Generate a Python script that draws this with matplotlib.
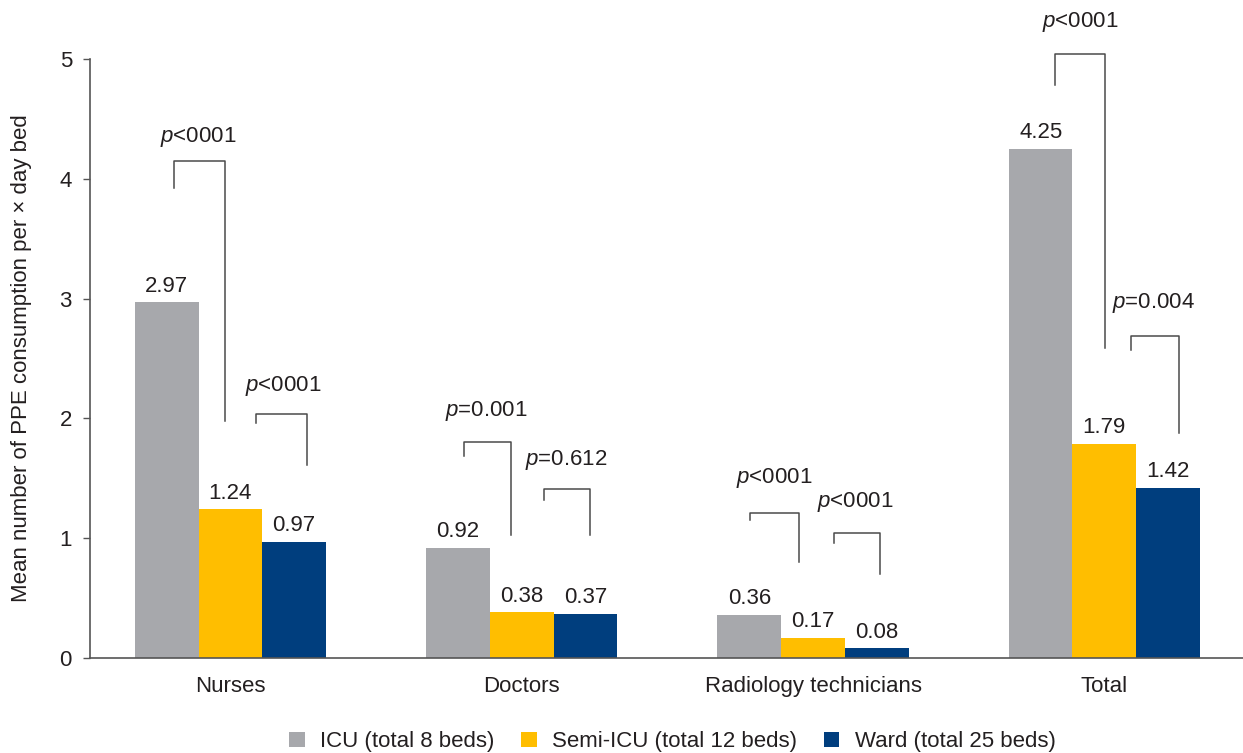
import numpy as np
import matplotlib
matplotlib.use("Agg")
import matplotlib.pyplot as plt

plt.rcParams['font.family'] = ['Liberation Sans', 'DejaVu Sans']
plt.rcParams['mathtext.fontset'] = 'custom'
plt.rcParams['mathtext.it'] = 'Liberation Sans:italic'
plt.rcParams['mathtext.rm'] = 'Liberation Sans'

# data
categories = ["Nurses", "Doctors", "Radiology technicians", "Total"]
series_names = ["ICU (total 8 beds)", "Semi-ICU (total 12 beds)", "Ward (total 25 beds)"]
icu = [2.97, 0.92, 0.36, 4.25]
semi_icu = [1.24, 0.38, 0.17, 1.79]
ward = [0.97, 0.37, 0.08, 1.42]

# significance brackets: (x left, x right, y left end, y top, y right end, label)
brackets = [
    (-0.194, -0.020, 3.92, 4.15, 1.98, "$\\it{p}$<0001"),
    (0.087, 0.264, 1.96, 2.04, 1.61, "$\\it{p}$<0001"),
    (0.802, 0.964, 1.69, 1.80, 1.03, "$\\it{p}$=0.001"),
    (1.076, 1.234, 1.32, 1.41, 1.03, "$\\it{p}$=0.612"),
    (1.784, 1.951, 1.15, 1.21, 0.80, "$\\it{p}$<0001"),
    (2.072, 2.231, 0.96, 1.04, 0.70, "$\\it{p}$<0001"),
    (2.832, 3.002, 4.78, 5.04, 2.59, "$\\it{p}$<0001"),
    (3.091, 3.257, 2.57, 2.69, 1.88, "$\\it{p}$=0.004"),
]
# label centres (x, y) for each bracket text
label_pos = [(-0.112, 4.35), (0.180, 2.27), (0.878, 2.06), (1.153, 1.65),
             (1.867, 1.50), (2.145, 1.30), (2.916, 5.31), (3.170, 2.96)]

colors = ['#A7A8AC', '#FFBE00', '#003E7E']
text_color = '#231F20'
line_color = '#4A4A4A'
fs = 16

fig = plt.figure(figsize=(12.43, 7.53), dpi=100)
ax = fig.add_axes([0.0724, 0.1262, 0.9276, 0.7954])

x = np.arange(len(categories))
width = 0.2187

for i, (vals, name) in enumerate(zip([icu, semi_icu, ward], series_names)):
    bars = ax.bar(x + (i - 1) * width, vals, width, color=colors[i], label=name, zorder=2)
    for b, v in zip(bars, vals):
        ax.annotate(f"{v:.2f}", (b.get_x() + b.get_width() / 2, v), xytext=(0, 4),
                    textcoords='offset points', ha='center', va='bottom',
                    fontsize=fs, color=text_color)

for (x0, x1, yl, yt, yr, lab), (tx, ty) in zip(brackets, label_pos):
    ax.plot([x0, x0, x1, x1], [yl, yt, yt, yr], color=line_color, lw=1.1,
            clip_on=False, zorder=3)
    ax.text(tx, ty, lab, ha='center', va='center', fontsize=fs, color=text_color)

ax.set_xlim(-0.482, 3.476)
ax.set_ylim(0, 5)
ax.set_yticks([0, 1, 2, 3, 4, 5])
ax.set_xticks(x)
ax.set_xticklabels(categories)
ax.tick_params(axis='x', length=0, pad=13, labelsize=fs, labelcolor=text_color)
ax.tick_params(axis='y', length=5, width=1, color='#555555', pad=8,
               labelsize=fs, labelcolor=text_color)
ax.set_ylabel("Mean number of PPE consumption per \u00d7 day bed", fontsize=fs,
              color=text_color, labelpad=20)

for s in ['top', 'right']:
    ax.spines[s].set_visible(False)
for s in ['left', 'bottom']:
    ax.spines[s].set_color('#555555')
    ax.spines[s].set_linewidth(1.2)

fig.legend(loc='center', bbox_to_anchor=(0.541, 0.015), ncol=3, frameon=False,
           fontsize=fs, handlelength=0.7, handleheight=0.7, handletextpad=0.7,
           columnspacing=1.2, labelcolor=text_color)

fig.savefig("out.png", dpi=100)
